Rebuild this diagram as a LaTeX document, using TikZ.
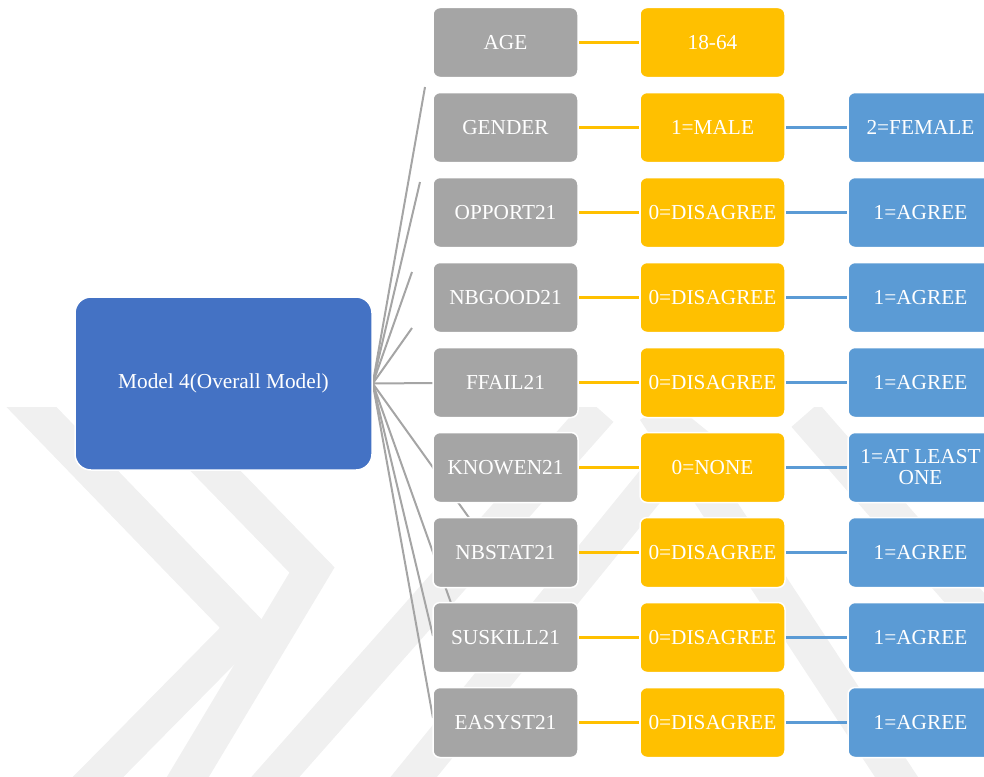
\documentclass[tikz,border=0pt]{standalone}
\usepackage{fontspec}
\setmainfont{Liberation Serif}
\pgfdeclarelayer{mark}
\pgfdeclarelayer{wires}
\pgfsetlayers{mark,wires,main}
\definecolor{rootblue}{HTML}{4472C4}
\definecolor{catgray}{HTML}{A5A5A5}
\definecolor{valyellow}{HTML}{FFC000}
\definecolor{valblue}{HTML}{5B9BD5}
\definecolor{markgray}{HTML}{F0F0F0}
\tikzset{
  x=1pt, y=-1pt,
  box/.style={rounded corners=7pt, draw=white, line width=1.5pt, text=white,
    minimum width=145pt, minimum height=70pt, inner sep=0pt, align=center,
    font=\fontsize{21.3}{22}\selectfont},
  rootbox/.style={box, fill=rootblue, rounded corners=16pt,
    minimum width=297pt, minimum height=173pt},
  varbox/.style={box, fill=catgray},
  lvlone/.style={box, fill=valyellow},
  lvltwo/.style={box, fill=valblue},
  branch/.style={draw=catgray, line width=2pt},
  linkone/.style={draw=valyellow, line width=2.6pt},
  linktwo/.style={draw=valblue, line width=2.6pt},
  band/.style={draw=markgray, line width=36pt, line cap=butt, line join=miter}
}
\begin{document}
\begin{tikzpicture}
\useasboundingbox (0,0) rectangle (984,776);
\clip (0,0) rectangle (984,776);

% faint background emblem
\begin{pgfonlayer}{mark}
  \begin{scope}
    \clip (0,407) rectangle (984,776);
    \draw[band] (15,390) -- (245,628) -- (100,775) -- (70,805);
    \draw[band] (200,455) -- (312,570) -- (180,790);
    \draw[band] (255,800) -- (600,410);
    \draw[band] (395,800) -- (700,425);
    \draw[band] (655,410) -- (905,790);
    \draw[band] (805,415) -- (1010,650);
  \end{scope}
\end{pgfonlayer}

% root
\node[rootbox] (root) at (223.5,383.5) {Model 4(Overall Model)};

% variables
\node[varbox] (v1) at (505.5,42.5)  {AGE};
\node[varbox] (v2) at (505.5,127.5) {GENDER};
\node[varbox] (v3) at (505.5,212.5) {OPPORT21};
\node[varbox] (v4) at (505.5,297.5) {NBGOOD21};
\node[varbox] (v5) at (505.5,382.5) {FFAIL21};
\node[varbox] (v6) at (505.5,467.5) {KNOWEN21};
\node[varbox] (v7) at (505.5,552.5) {NBSTAT21};
\node[varbox] (v8) at (505.5,637.5) {SUSKILL21};
\node[varbox] (v9) at (505.5,722.5) {EASYST21};

% first values
\node[lvlone] (a1) at (712.5,42.5)  {18-64};
\node[lvlone] (a2) at (712.5,127.5) {1=MALE};
\node[lvlone] (a3) at (712.5,212.5) {0=DISAGREE};
\node[lvlone] (a4) at (712.5,297.5) {0=DISAGREE};
\node[lvlone] (a5) at (712.5,382.5) {0=DISAGREE};
\node[lvlone] (a6) at (712.5,467.5) {0=NONE};
\node[lvlone] (a7) at (712.5,552.5) {0=DISAGREE};
\node[lvlone] (a8) at (712.5,637.5) {0=DISAGREE};
\node[lvlone] (a9) at (712.5,722.5) {0=DISAGREE};

% second values
\node[lvltwo] (b2) at (920.5,127.5) {2=FEMALE};
\node[lvltwo] (b3) at (920.5,212.5) {1=AGREE};
\node[lvltwo] (b4) at (920.5,297.5) {1=AGREE};
\node[lvltwo] (b5) at (920.5,382.5) {1=AGREE};
\node[lvltwo] (b6) at (920.5,467.5) {1=AT LEAST\\[-1pt]ONE};
\node[lvltwo] (b7) at (920.5,552.5) {1=AGREE};
\node[lvltwo] (b8) at (920.5,637.5) {1=AGREE};
\node[lvltwo] (b9) at (920.5,722.5) {1=AGREE};

% branch ends
\coordinate (e1) at (425,87);
\coordinate (e2) at (420,182);
\coordinate (e3) at (412,272);
\coordinate (e4) at (412,328);
\coordinate (e5) at (434,383);
\coordinate (e6) at (480,533);
\coordinate (e7) at (456,617);
\coordinate (e8) at (433,636);
\coordinate (e9) at (433,718);

\begin{pgfonlayer}{wires}
  \foreach \i in {1,...,9} {
    \draw[branch] (root.east) -- (e\i);
    \draw[linkone] (v\i.east) -- (a\i.west);
  }
  \foreach \i in {2,...,9} {
    \draw[linktwo] (a\i.east) -- (b\i.west);
  }
\end{pgfonlayer}
\end{tikzpicture}
\end{document}
